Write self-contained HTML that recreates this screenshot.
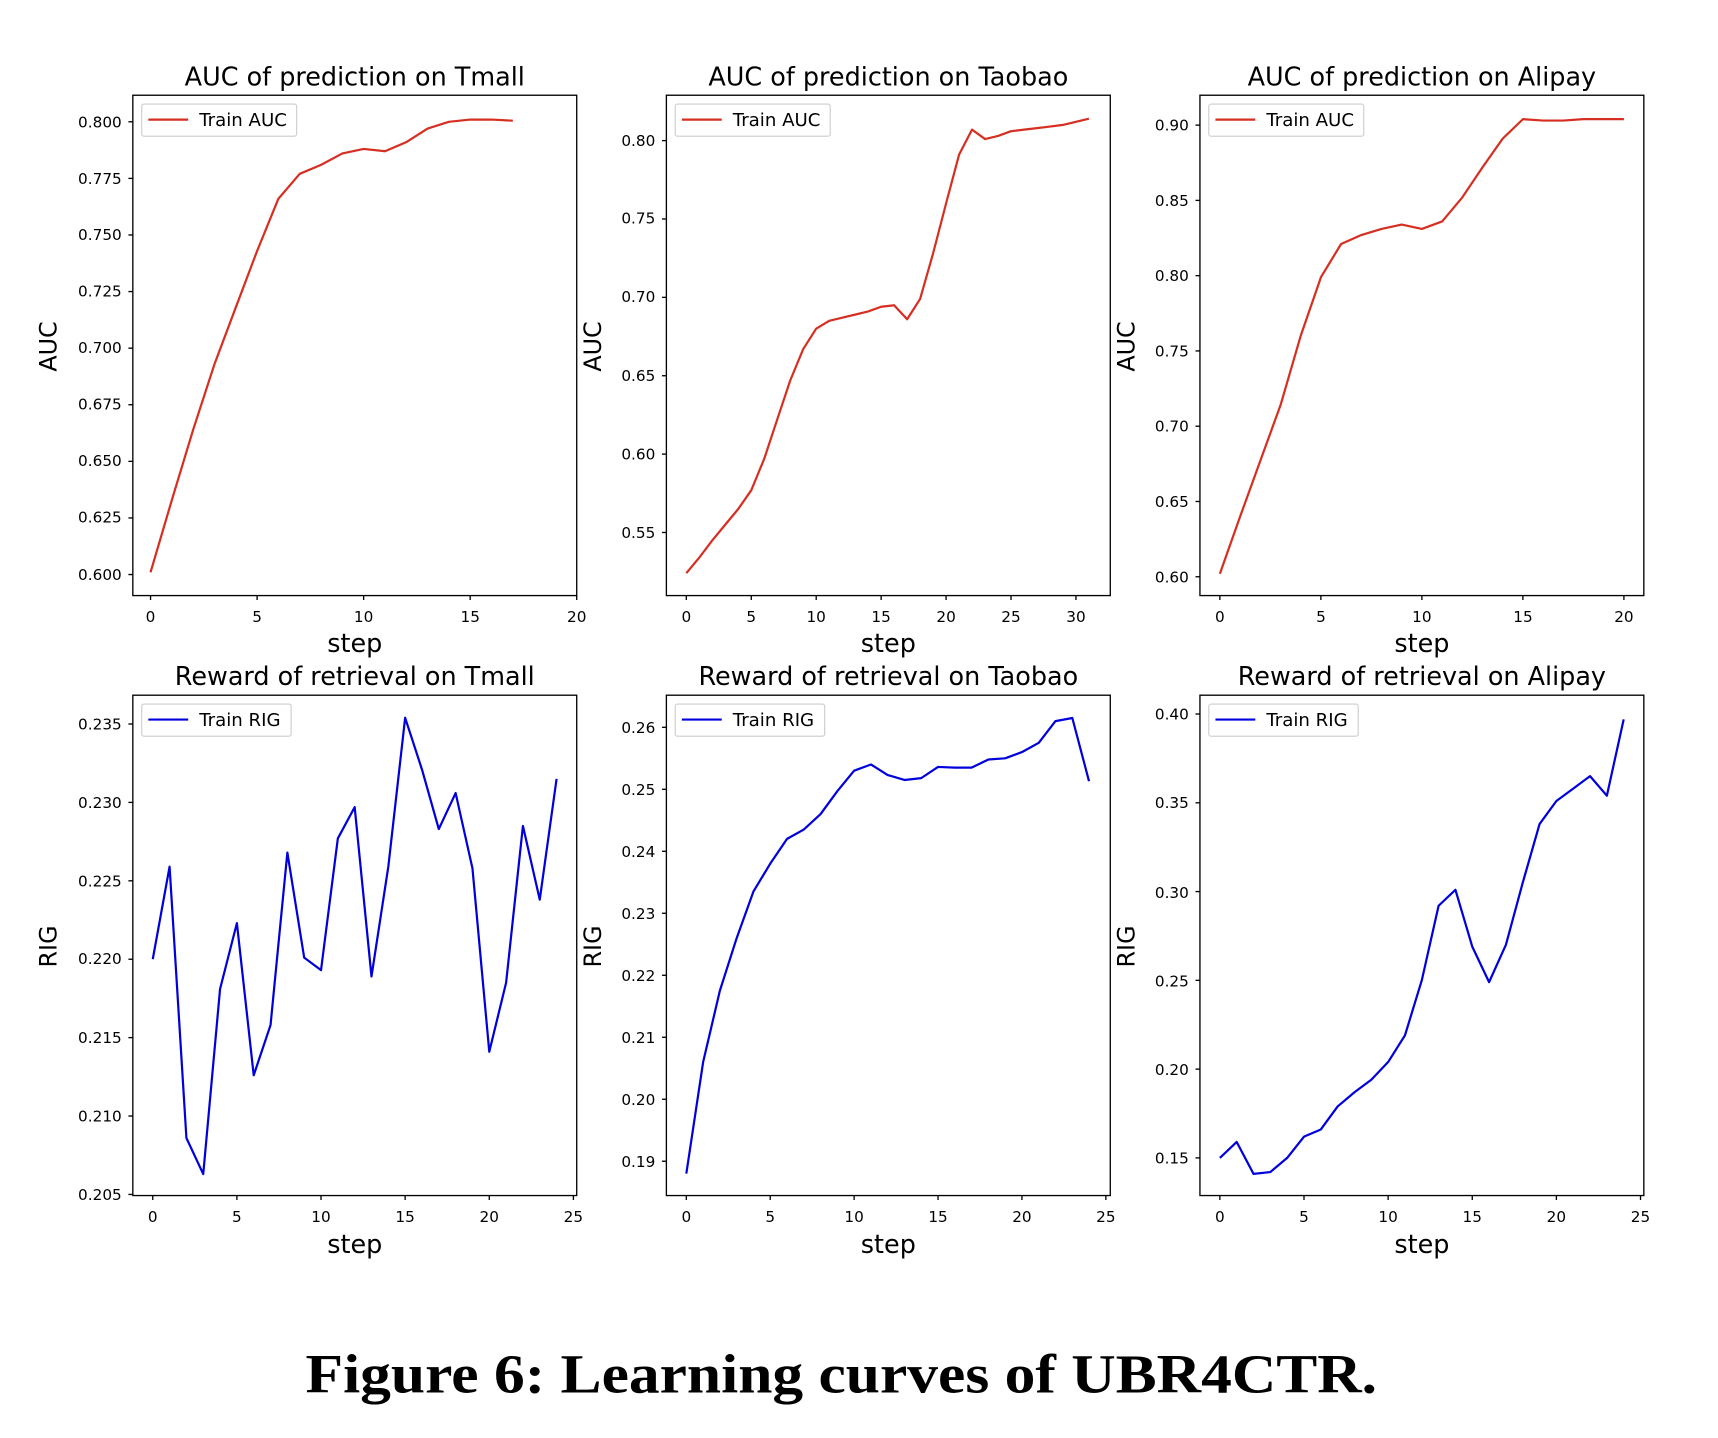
<!DOCTYPE html>
<html><head><meta charset="utf-8"><style>
html,body{margin:0;padding:0;background:#fff}
svg{display:block}
text{font-family:"DejaVu Sans","Liberation Sans",sans-serif;fill:#000}
.t{font-size:13.8px}
.ti{font-size:23px}
.lb{font-size:23px}
.yl{font-size:21.5px}
.lg{font-size:16.4px}
</style></head><body>
<svg id="s" width="1718" height="1438" viewBox="0 0 1552 1299" xmlns="http://www.w3.org/2000/svg">
<rect width="1552" height="1299" fill="#fff"/>
<g id="g"></g>
<text class="ti" x="320.5" y="77" text-anchor="middle">AUC of prediction on Tmall</text>
<text class="ti" x="802.5" y="77" text-anchor="middle">AUC of prediction on Taobao</text>
<text class="ti" x="1284.5" y="77" text-anchor="middle">AUC of prediction on Alipay</text>
<text class="ti" x="320.5" y="619" text-anchor="middle">Reward of retrieval on Tmall</text>
<text class="ti" x="802.5" y="619" text-anchor="middle">Reward of retrieval on Taobao</text>
<text class="ti" x="1284.5" y="619" text-anchor="middle">Reward of retrieval on Alipay</text>
<text class="lb" x="320.5" y="589" text-anchor="middle">step</text>
<text class="lb" x="802.5" y="589" text-anchor="middle">step</text>
<text class="lb" x="1284.5" y="589" text-anchor="middle">step</text>
<text class="lb" x="320.5" y="1132" text-anchor="middle">step</text>
<text class="lb" x="802.5" y="1132" text-anchor="middle">step</text>
<text class="lb" x="1284.5" y="1132" text-anchor="middle">step</text>
<text class="yl" transform="translate(51,313) rotate(-90)" text-anchor="middle">AUC</text>
<text class="yl" transform="translate(543,313) rotate(-90)" text-anchor="middle">AUC</text>
<text class="yl" transform="translate(1025,313) rotate(-90)" text-anchor="middle">AUC</text>
<text class="yl" transform="translate(51,855) rotate(-90)" text-anchor="middle">RIG</text>
<text class="yl" transform="translate(543,855) rotate(-90)" text-anchor="middle">RIG</text>
<text class="yl" transform="translate(1025,855) rotate(-90)" text-anchor="middle">RIG</text>
<g fill="#fff" stroke="#ccc" stroke-width="1">
<rect x="128" y="94" width="140" height="29" rx="2"/><rect x="610" y="94" width="140" height="29" rx="2"/><rect x="1092" y="94" width="140" height="29" rx="2"/>
<rect x="128" y="636" width="135" height="29" rx="2"/><rect x="610" y="636" width="135" height="29" rx="2"/><rect x="1092" y="636" width="135" height="29" rx="2"/>
</g>
<g stroke-width="2"><line x1="134" y1="108" x2="170" y2="108" stroke="#d62f22"/><line x1="616" y1="108" x2="652" y2="108" stroke="#d62f22"/><line x1="1098" y1="108" x2="1134" y2="108" stroke="#d62f22"/>
<line x1="134" y1="650" x2="170" y2="650" stroke="#0000dd"/><line x1="616" y1="650" x2="652" y2="650" stroke="#0000dd"/><line x1="1098" y1="650" x2="1134" y2="650" stroke="#0000dd"/></g>
<text class="lg" x="180" y="114">Train AUC</text><text class="lg" x="662" y="114">Train AUC</text><text class="lg" x="1144" y="114">Train AUC</text>
<text class="lg" x="180" y="656">Train RIG</text><text class="lg" x="662" y="656">Train RIG</text><text class="lg" x="1144" y="656">Train RIG</text>
<g class="t" text-anchor="end">
<text x="110" y="115">0.800</text><text x="110" y="166">0.775</text><text x="110" y="217">0.750</text><text x="110" y="268">0.725</text><text x="110" y="319">0.700</text><text x="110" y="370">0.675</text><text x="110" y="421">0.650</text><text x="110" y="472">0.625</text><text x="110" y="524">0.600</text>
<text x="592" y="132">0.80</text><text x="592" y="202">0.75</text><text x="592" y="273">0.70</text><text x="592" y="344">0.65</text><text x="592" y="415">0.60</text><text x="592" y="486">0.55</text>
<text x="1074" y="118">0.90</text><text x="1074" y="186">0.85</text><text x="1074" y="254">0.80</text><text x="1074" y="322">0.75</text><text x="1074" y="390">0.70</text><text x="1074" y="458">0.65</text><text x="1074" y="526">0.60</text>
<text x="110" y="659">0.235</text><text x="110" y="730">0.230</text><text x="110" y="801">0.225</text><text x="110" y="871">0.220</text><text x="110" y="942">0.215</text><text x="110" y="1013">0.210</text><text x="110" y="1084">0.205</text>
<text x="592" y="662">0.26</text><text x="592" y="718">0.25</text><text x="592" y="774">0.24</text><text x="592" y="830">0.23</text><text x="592" y="886">0.22</text><text x="592" y="942">0.21</text><text x="592" y="998">0.20</text><text x="592" y="1054">0.19</text>
<text x="1074" y="650">0.40</text><text x="1074" y="730">0.35</text><text x="1074" y="811">0.30</text><text x="1074" y="891">0.25</text><text x="1074" y="971">0.20</text><text x="1074" y="1051">0.15</text>
</g>
<g class="t" text-anchor="middle">
<text x="136" y="562">0</text><text x="232.3" y="562">5</text><text x="328.5" y="562">10</text><text x="424.8" y="562">15</text><text x="521" y="562">20</text>
<text x="620" y="562">0</text><text x="678.7" y="562">5</text><text x="737.3" y="562">10</text><text x="796" y="562">15</text><text x="854.7" y="562">20</text><text x="913.3" y="562">25</text><text x="972" y="562">30</text>
<text x="1102" y="562">0</text><text x="1193.3" y="562">5</text><text x="1284.5" y="562">10</text><text x="1375.8" y="562">15</text><text x="1467" y="562">20</text>
<text x="138" y="1104">0</text><text x="214" y="1104">5</text><text x="290" y="1104">10</text><text x="366" y="1104">15</text><text x="442" y="1104">20</text><text x="518" y="1104">25</text>
<text x="620" y="1104">0</text><text x="695.8" y="1104">5</text><text x="771.6" y="1104">10</text><text x="847.4" y="1104">15</text><text x="923.2" y="1104">20</text><text x="999" y="1104">25</text>
<text x="1102" y="1104">0</text><text x="1178" y="1104">5</text><text x="1254" y="1104">10</text><text x="1330" y="1104">15</text><text x="1406" y="1104">20</text><text x="1482" y="1104">25</text>
</g>
<text x="760" y="1258" text-anchor="middle" textLength="968" lengthAdjust="spacingAndGlyphs" style="font-family:'Liberation Serif',serif;font-weight:bold;font-size:50px">Figure 6: Learning curves of UBR4CTR.</text>
</svg>
<script>
var g=document.getElementById('g'),NS='http://www.w3.org/2000/svg';
function el(n,a){var e=document.createElementNS(NS,n);for(var k in a)e.setAttribute(k,a[k]);g.appendChild(e);return e;}
var P=[
{ax:[120,86,521,538],x0:136,xu:19.25,y0:519,v0:0.600,vu:2045,col:'#d62f22',xt:[0,5,10,15,20],yt:[0.8,0.775,0.75,0.725,0.7,0.675,0.65,0.625,0.6],
 d:[0.601,0.633,0.664,0.693,0.718,0.743,0.766,0.777,0.781,0.786,0.788,0.787,0.791,0.797,0.800,0.801,0.801,0.8005]},
{ax:[602,86,1003,538],x0:620,xu:11.733,y0:481,v0:0.55,vu:1416,col:'#d62f22',xt:[0,5,10,15,20,25,30],yt:[0.8,0.75,0.7,0.65,0.6,0.55],
 d:[0.524,0.534,0.545,0.555,0.565,0.577,0.597,0.622,0.647,0.667,0.680,0.685,0.687,0.689,0.691,0.694,0.695,0.686,0.699,0.728,0.760,0.791,0.807,0.801,0.803,0.806,0.807,0.808,0.809,0.810,0.812,0.814]},
{ax:[1084,86,1485,538],x0:1102,xu:18.25,y0:521,v0:0.6,vu:1360,col:'#d62f22',xt:[0,5,10,15,20],yt:[0.9,0.85,0.8,0.75,0.7,0.65,0.6],
 d:[0.602,0.640,0.677,0.714,0.760,0.799,0.821,0.827,0.831,0.834,0.831,0.836,0.852,0.872,0.891,0.904,0.903,0.903,0.904,0.904,0.904]},
{ax:[120,628,521,1080],x0:138,xu:15.2,y0:1079,v0:0.205,vu:14166,col:'#0000dd',xt:[0,5,10,15,20,25],yt:[0.235,0.23,0.225,0.22,0.215,0.21,0.205],
 d:[0.2200,0.2259,0.2086,0.2063,0.2181,0.2223,0.2126,0.2158,0.2268,0.2201,0.2193,0.2277,0.2297,0.2189,0.2259,0.2354,0.2321,0.2283,0.2306,0.2258,0.2141,0.2185,0.2285,0.2238,0.2315]},
{ax:[602,628,1003,1080],x0:620,xu:15.16,y0:1049,v0:0.19,vu:5600,col:'#0000dd',xt:[0,5,10,15,20,25],yt:[0.26,0.25,0.24,0.23,0.22,0.21,0.2,0.19],
 d:[0.188,0.206,0.2175,0.226,0.2335,0.238,0.242,0.2435,0.246,0.2497,0.253,0.254,0.2523,0.2515,0.2518,0.2536,0.2535,0.2535,0.2548,0.255,0.256,0.2575,0.261,0.2615,0.2513]},
{ax:[1084,628,1485,1080],x0:1102,xu:15.2,y0:1046,v0:0.15,vu:1604,col:'#0000dd',xt:[0,5,10,15,20,25],yt:[0.4,0.35,0.3,0.25,0.2,0.15],
 d:[0.150,0.159,0.141,0.142,0.150,0.162,0.166,0.179,0.187,0.194,0.204,0.219,0.250,0.292,0.301,0.269,0.249,0.270,0.305,0.338,0.351,0.358,0.365,0.354,0.397]}
];
P.forEach(function(p){
 var a=p.ax;
 var pts=p.d.map(function(v,i){return (p.x0+p.xu*i).toFixed(1)+','+(p.y0-(v-p.v0)*p.vu).toFixed(1)}).join(' ');
 el('polyline',{points:pts,fill:'none',stroke:p.col,'stroke-width':2,'stroke-linejoin':'round'});
 el('rect',{x:a[0],y:a[1],width:a[2]-a[0],height:a[3]-a[1],fill:'none',stroke:'#000','stroke-width':1.2});
 p.xt.forEach(function(t){var x=p.x0+p.xu*t;el('line',{x1:x,x2:x,y1:a[3],y2:a[3]+4,stroke:'#000','stroke-width':1.2});});
 p.yt.forEach(function(t){var y=p.y0-(t-p.v0)*p.vu;el('line',{x1:a[0]-4,x2:a[0],y1:y,y2:y,stroke:'#000','stroke-width':1.2});});
});
</script>
</body></html>
